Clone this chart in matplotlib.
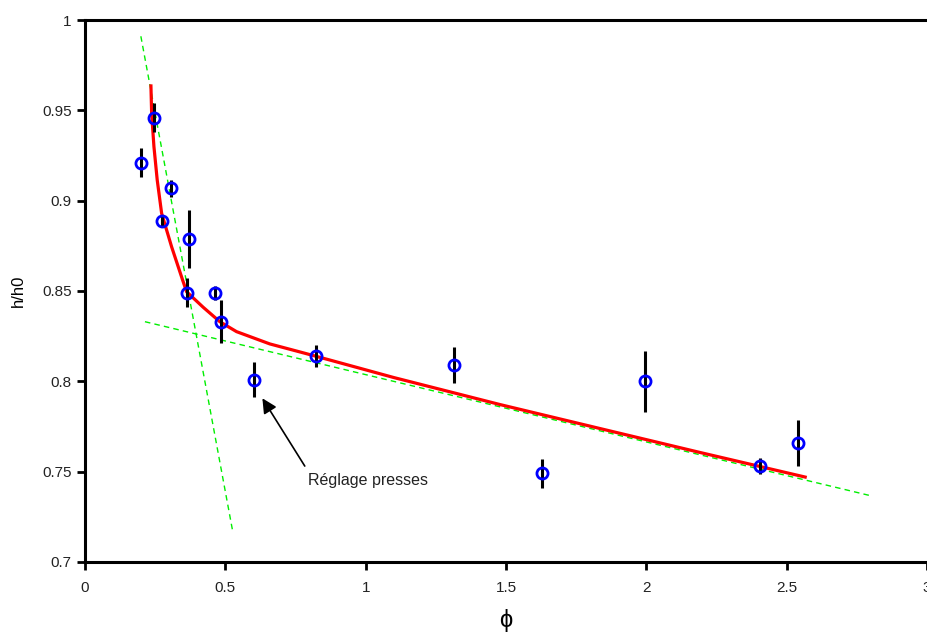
import numpy as np
import matplotlib.pyplot as plt
from matplotlib.ticker import FormatStrFormatter

plt.rcParams['font.family'] = ['Liberation Sans', 'DejaVu Sans']

# measured points
phi = [0.199, 0.246, 0.274, 0.306, 0.362, 0.370, 0.463, 0.486, 0.601,
       0.822, 1.313, 1.628, 1.995, 2.406, 2.542]
h_ratio = [0.921, 0.946, 0.889, 0.907, 0.849, 0.879, 0.849, 0.833, 0.801,
           0.814, 0.809, 0.749, 0.800, 0.753, 0.766]
h_err = [0.008, 0.008, 0.003, 0.0047, 0.008, 0.016, 0.004, 0.012, 0.0095,
         0.006, 0.010, 0.008, 0.017, 0.0045, 0.0126]

# fitted curve
fit_phi = [0.2349, 0.2374, 0.2456, 0.2573, 0.2730, 0.3085, 0.3477, 0.3619,
           0.4210, 0.4804, 0.5399, 0.6584, 0.7769, 0.8719, 1.100, 1.477,
           1.850, 2.189, 2.566]
fit_h = [0.9635, 0.9484, 0.9299, 0.9114, 0.8930, 0.8745, 0.8561, 0.8496,
         0.8410, 0.8330, 0.8275, 0.8207, 0.8158, 0.8118, 0.8021, 0.7872,
         0.7733, 0.7607, 0.7470]

# asymptotes
steep_phi = [0.199, 0.525]
steep_h = [0.991, 0.718]
flat_phi = [0.2135, 2.804]
flat_h = [0.833, 0.7365]

fig = plt.figure(figsize=(9.27, 6.35), dpi=100)
ax = fig.add_axes([0.0917, 0.115, 0.9083, 0.8535])

ax.plot(steep_phi, steep_h, color='#00ee00', lw=1.0, ls=(0, (4, 3)), zorder=2)
ax.plot(flat_phi, flat_h, color='#00ee00', lw=1.0, ls=(0, (4, 3)), zorder=2)
ax.plot(fit_phi, fit_h, color='#ff0000', lw=2.3, zorder=3)

ax.errorbar(phi, h_ratio, yerr=h_err, fmt='none', ecolor='black',
            elinewidth=2.2, capsize=0, zorder=4)
ax.plot(phi, h_ratio, 'o', mfc='none', mec='#0000ff', mew=2.0, ms=8, zorder=5)

# annotation
ax.annotate('', xy=(0.632, 0.7906), xytext=(0.783, 0.7531),
            arrowprops=dict(arrowstyle='-|>', color='black', lw=1.2,
                            mutation_scale=22, shrinkA=0, shrinkB=0))
ax.text(0.794, 0.7452, 'Réglage presses', fontsize=11.5, color='#222222',
        va='center', ha='left')

ax.set_xlim(0, 3)
ax.set_ylim(0.7, 1.0)
ax.set_xticks([0, 0.5, 1, 1.5, 2, 2.5, 3])
ax.set_yticks([0.7, 0.75, 0.8, 0.85, 0.9, 0.95, 1.0])
ax.xaxis.set_major_formatter(FormatStrFormatter('%g'))
ax.yaxis.set_major_formatter(FormatStrFormatter('%g'))
ax.tick_params(direction='out', length=6, width=2, labelsize=11,
               labelcolor='#222222')
ax.tick_params(axis='x', pad=8)

for side in ['left', 'bottom', 'top']:
    ax.spines[side].set_linewidth(2.2)
ax.spines['right'].set_visible(False)

ax.set_xlabel('ϕ', fontsize=17, labelpad=10)
ax.set_ylabel('h/h0', fontsize=12, labelpad=12)

fig.savefig('out.png', dpi=100)
